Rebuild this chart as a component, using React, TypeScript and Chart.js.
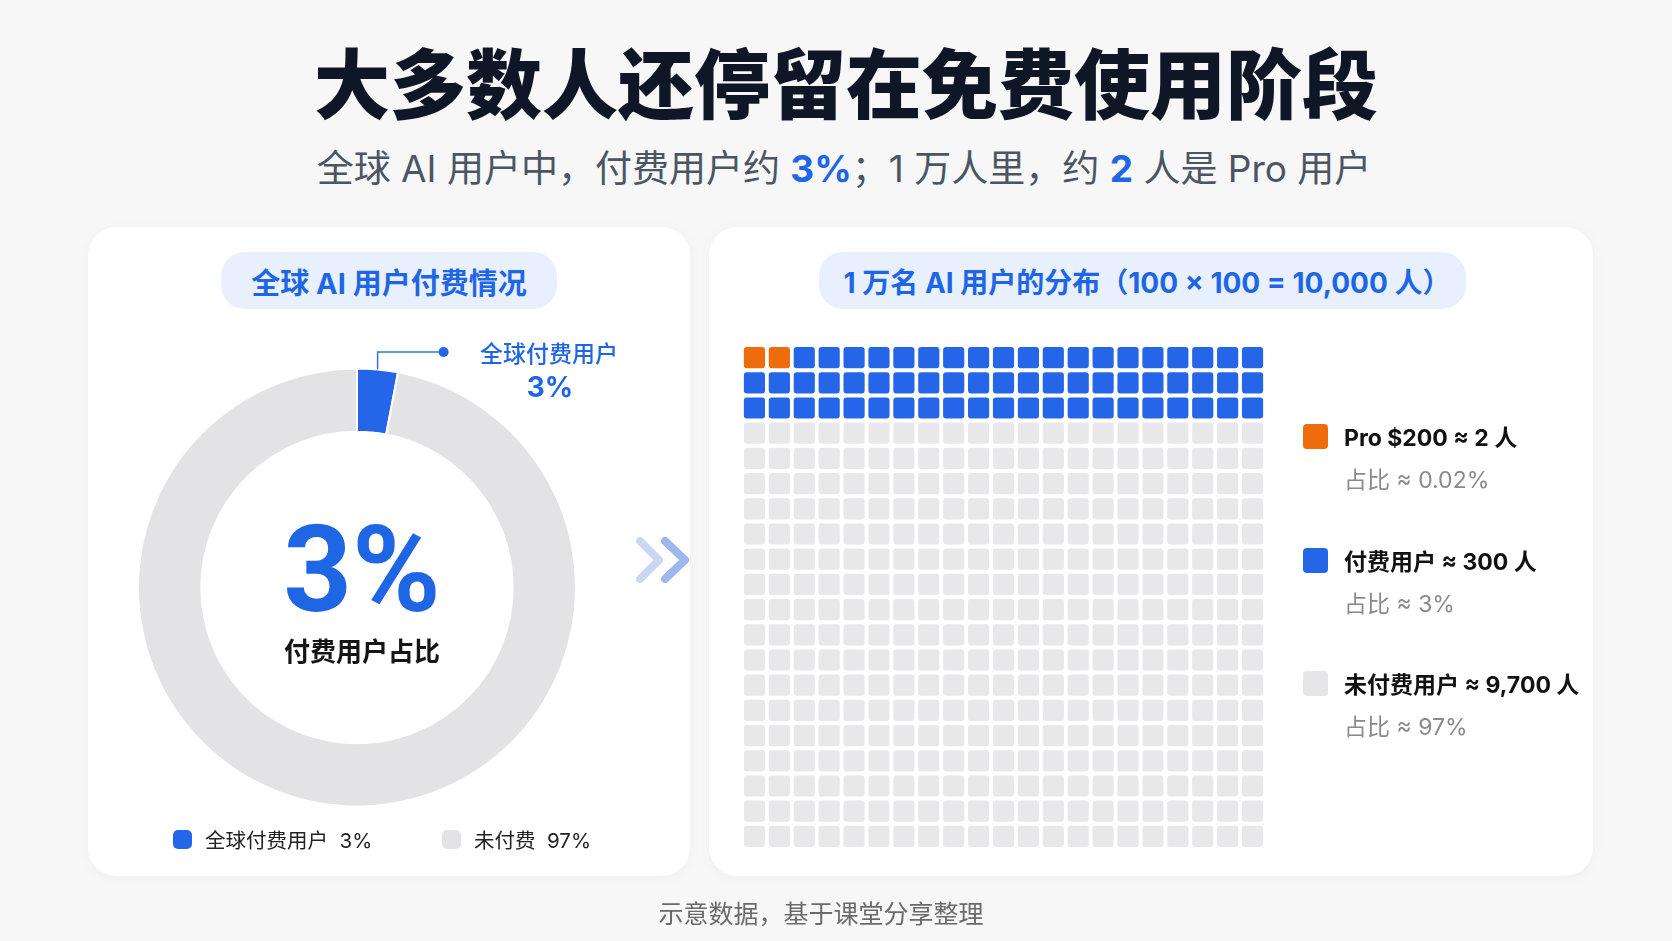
import React, { useEffect, useRef } from "react";
import { Chart, registerables } from "chart.js";

Chart.register(...registerables);

// ---- data ----
const donutLabels = ["全球付费用户", "未付费"];
const donutValues = [3, 97];
const donutColors = ["#2566e8", "#e3e3e5"];

const waffleColumns = 21;
const waffleRows = 20;
const waffleProCells = 2;
const wafflePaidCells = 61;
const waffleColors = { pro: "#ee6c0c", paid: "#2566e8", free: "#e8e8ea" };

const legendTitles = ["Pro $200 ≈ 2 人", "付费用户 ≈ 300 人", "未付费用户 ≈ 9,700 人"];
const legendShares = ["占比 ≈ 0.02%", "占比 ≈ 3%", "占比 ≈ 97%"];
const legendColors = ["#ee6c0c", "#2566e8", "#e6e6e8"];

const FONT = 'Inter, "Noto Sans CJK SC", "Noto Sans", sans-serif';

const abs = (x: number, y: number, extra: React.CSSProperties = {}): React.CSSProperties => ({
  position: "absolute",
  left: x,
  top: y,
  transform: "translate(-50%, -50%)",
  whiteSpace: "nowrap",
  ...extra,
});

export default function App() {
  const donutRef = useRef<HTMLCanvasElement | null>(null);
  const waffleRef = useRef<HTMLCanvasElement | null>(null);

  useEffect(() => {
    document.body.style.margin = "0";
    const calloutPlugin = {
      id: "callout",
      afterDatasetsDraw(chart: any) {
        const arc = chart.getDatasetMeta(0).data[0];
        const p = arc.getProps(["x", "y", "startAngle", "endAngle", "outerRadius"], true);
        const mid = (p.startAngle + p.endAngle) / 2;
        const px = p.x + Math.cos(mid) * p.outerRadius;
        const py = p.y + Math.sin(mid) * p.outerRadius;
        const ctx = chart.ctx;
        ctx.save();
        ctx.strokeStyle = "#3a74e0";
        ctx.lineWidth = 1.5;
        ctx.beginPath();
        ctx.moveTo(px, py);
        ctx.lineTo(px, 125);
        ctx.lineTo(355.6, 125);
        ctx.stroke();
        ctx.fillStyle = "#2566e8";
        ctx.beginPath();
        ctx.arc(355.6, 125, 5, 0, Math.PI * 2);
        ctx.fill();
        ctx.restore();
      },
    };
    const donut = new Chart(donutRef.current!, {
      type: "doughnut",
      data: {
        labels: donutLabels,
        datasets: [
          {
            data: donutValues,
            backgroundColor: donutColors,
            borderColor: "#ffffff",
            borderWidth: 2,
            hoverOffset: 0,
          },
        ],
      },
      options: {
        responsive: false,
        animation: false,
        radius: 219,
        cutout: 155,
        layout: { padding: { left: 50, right: 114, top: 141.5, bottom: 69.5 } },
        plugins: { legend: { display: false }, tooltip: { enabled: false } },
        events: [],
      } as any,
      plugins: [calloutPlugin],
    });

    const cols = Array.from({ length: waffleColumns }, (_, i) => String(i + 1));
    const colorFor = (idx: number) =>
      idx < waffleProCells
        ? waffleColors.pro
        : idx < waffleProCells + wafflePaidCells
        ? waffleColors.paid
        : waffleColors.free;
    const datasets = Array.from({ length: waffleRows }, (_, r) => ({
      label: "row " + (r + 1),
      data: cols.map(() => [r + 0.08, r + 0.92]),
      backgroundColor: cols.map((_, c) => colorFor(r * waffleColumns + c)),
      grouped: false,
      barPercentage: 0.85,
      categoryPercentage: 1,
      borderRadius: 3,
      borderSkipped: false,
    }));
    const waffle = new Chart(waffleRef.current!, {
      type: "bar",
      data: { labels: cols, datasets: datasets as any },
      options: {
        responsive: false,
        animation: false,
        layout: { padding: 0 },
        scales: {
          x: { display: false, offset: true },
          y: { display: false, min: 0, max: waffleRows, reverse: true },
        },
        plugins: { legend: { display: false }, tooltip: { enabled: false } },
        events: [],
      } as any,
    });
    return () => {
      donut.destroy();
      waffle.destroy();
    };
  }, []);

  const card: React.CSSProperties = {
    position: "absolute",
    top: 227,
    height: 649,
    background: "#ffffff",
    borderRadius: 28,
    boxShadow: "0 2px 14px rgba(0,0,0,0.035)",
  };
  const pill: React.CSSProperties = {
    position: "absolute",
    top: 252,
    height: 57,
    background: "#e8f0fd",
    borderRadius: 24,
  };
  const blue = "#1f66e5";

  return (
    <div
      style={{
        position: "absolute",
        left: 0,
        top: 0,
        width: 1672,
        height: 941,
        background: "#f7f7f8",
        fontFamily: FONT,
        overflow: "hidden",
      }}
    >
      <div style={abs(846, 80, { fontSize: 76, fontWeight: 900, color: "#0f1626", letterSpacing: 0 })}>
        大多数人还停留在免费使用阶段
      </div>
      <div style={abs(844, 166, { fontSize: 37, color: "#4b5563" })}>
        全球 AI 用户中，付费用户约 <b style={{ color: blue }}>3%</b>；1 万人里，约{" "}
        <b style={{ color: blue }}>2</b> 人是 Pro 用户
      </div>

      <div style={{ ...card, left: 88, width: 602 }} />
      <div style={{ ...card, left: 709, width: 884 }} />

      <div style={{ ...pill, left: 221, width: 336 }} />
      <div style={abs(389, 281, { fontSize: 29, fontWeight: 700, color: blue })}>全球 AI 用户付费情况</div>
      <div style={{ ...pill, left: 819, width: 647 }} />
      <div style={abs(1147, 281, { fontSize: 28, fontWeight: 700, color: blue })}>
        1 万名 AI 用户的分布（100 × 100 = 10,000 人）
      </div>

      <canvas
        ref={donutRef}
        width={602}
        height={649}
        style={{ position: "absolute", left: 88, top: 227, width: 602, height: 649 }}
      />
      <div style={abs(549, 352, { fontSize: 23, fontWeight: 500, color: blue })}>全球付费用户</div>
      <div style={abs(550, 387, { fontSize: 28, fontWeight: 700, color: blue })}>3%</div>
      <div style={abs(362, 570, { fontSize: 120, fontWeight: 700, color: blue, lineHeight: 1, fontFamily: 'Roboto, Inter, sans-serif' })}>3%</div>
      <div style={abs(362, 649, { fontSize: 26, fontWeight: 700, color: "#151515" })}>付费用户占比</div>

      <div style={{ position: "absolute", left: 173, top: 830, width: 19, height: 19, borderRadius: 5, background: "#2566e8" }} />
      <div style={{ position: "absolute", left: 205, top: 839, transform: "translateY(-50%)", fontSize: 20.5, color: "#222", whiteSpace: "pre" }}>
        全球付费用户  3%
      </div>
      <div style={{ position: "absolute", left: 442, top: 830, width: 19, height: 19, borderRadius: 5, background: "#e3e3e5" }} />
      <div style={{ position: "absolute", left: 474, top: 839, transform: "translateY(-50%)", fontSize: 20.5, color: "#222", whiteSpace: "pre" }}>
        未付费  97%
      </div>

      <svg style={{ position: "absolute", left: 0, top: 0 }} width={1672} height={941}>
        <polyline points="640,541 659,560 640,579" fill="none" stroke="#c9d7f5" strokeWidth={8} strokeLinecap="round" strokeLinejoin="round" />
        <polyline points="665,541 685,560 665,579" fill="none" stroke="#9db8ef" strokeWidth={8} strokeLinecap="round" strokeLinejoin="round" />
      </svg>

      <canvas
        ref={waffleRef}
        width={523}
        height={504}
        style={{ position: "absolute", left: 742, top: 345, width: 523, height: 504 }}
      />

      {legendTitles.map((t, i) => {
        const ty = [436, 560, 683][i];
        return (
          <React.Fragment key={t}>
            <div style={{ position: "absolute", left: 1303, top: ty - 12, width: 25, height: 25, borderRadius: 4, background: legendColors[i] }} />
            <div style={{ position: "absolute", left: 1344, top: ty, transform: "translateY(-50%)", fontSize: 23, fontWeight: 700, color: "#111", whiteSpace: "nowrap" }}>
              {t}
            </div>
            <div style={{ position: "absolute", left: 1344, top: ty + 42, transform: "translateY(-50%)", fontSize: 23, color: "#8a8a8c", whiteSpace: "nowrap" }}>
              {legendShares[i]}
            </div>
          </React.Fragment>
        );
      })}

      <div style={abs(821, 912, { fontSize: 25, color: "#6b6b6b" })}>示意数据，基于课堂分享整理</div>
    </div>
  );
}
